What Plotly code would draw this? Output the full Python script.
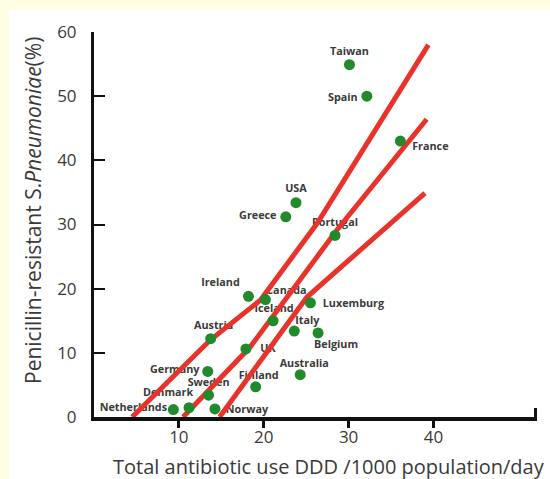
import plotly.graph_objects as go

# ---- data ----
countries = ["Taiwan", "Spain", "France", "USA", "Greece", "Portugal", "Ireland",
             "Canada", "Luxemburg", "Iceland", "Italy", "Belgium", "Austria", "UK",
             "Australia", "Germany", "Finland", "Sweden", "Denmark", "Netherlands", "Norway"]
antibiotic_use = [30.1, 32.15, 36.1, 23.8, 22.6, 28.4, 18.2,
                  20.2, 25.5, 21.1, 23.6, 26.4, 13.75, 17.9,
                  24.3, 13.4, 19.05, 13.5, 11.2, 9.35, 14.25]
resistance = [54.9, 50.0, 43.0, 33.4, 31.2, 28.3, 18.8,
              18.3, 17.8, 15.0, 13.4, 13.1, 12.2, 10.6,
              6.6, 7.1, 4.7, 3.4, 1.45, 1.15, 1.25]

upper_x = [4.5, 13.7, 19.6, 26.3, 39.4]
upper_y = [0.0, 12.0, 18.2, 30.2, 58.0]
middle_x = [10.5, 18.4, 28.6, 39.2]
middle_y = [0.0, 10.9, 29.1, 46.4]
lower_x = [14.8, 25.1, 39.0]
lower_y = [0.0, 18.7, 34.9]

x_ticks = [10, 20, 30, 40]
y_ticks = [0, 10, 20, 30, 40, 50, 60]

# ---- layout constants ----
W, H = 550, 479
ML, MR, MT, MB = 94, 13, 32, 62
XR = [0, 52.2]
YR = [0, 60]
pw = W - ML - MR
ph = H - MT - MB
px_x = pw / (XR[1] - XR[0])
px_y = ph / (YR[1] - YR[0])

# label offsets in pixels (right, up)
label_offsets = {
    "Taiwan": (0, 12), "Spain": (-24, -2), "France": (30, -6), "USA": (0, 13),
    "Greece": (-28, 0), "Portugal": (0, 12), "Ireland": (-28, 13), "Canada": (21, 8),
    "Luxemburg": (43, -2), "Iceland": (1, 11), "Italy": (13, 10), "Belgium": (18, -12),
    "Austria": (3, 12), "UK": (22, 0), "Australia": (4, 10), "Germany": (-33, 1),
    "Finland": (3, 11), "Sweden": (0, 12), "Denmark": (-21, 14), "Netherlands": (-40, 1),
    "Norway": (32, -1),
}
lab_x = [x + label_offsets[c][0] / px_x for c, x in zip(countries, antibiotic_use)]
lab_y = [y + label_offsets[c][1] / px_y for c, y in zip(countries, resistance)]

RED = "#E8322A"
GREEN = "#218A2B"
TXT = "#3a3a3a"
FONT = "Open Sans"
PAGE = "#FFFEE3"

fig = go.Figure()

fig.add_trace(go.Scatter(
    x=lab_x, y=lab_y, mode="text", text=countries, textposition="middle center",
    textfont=dict(family=FONT, size=10.8, color=TXT, weight="bold"),
    cliponaxis=False, hoverinfo="skip", showlegend=False))

for lx, ly in [(upper_x, upper_y), (middle_x, middle_y), (lower_x, lower_y)]:
    fig.add_trace(go.Scatter(x=lx, y=ly, mode="lines",
                             line=dict(color=RED, width=5),
                             hoverinfo="skip", showlegend=False))

fig.add_trace(go.Scatter(
    x=antibiotic_use, y=resistance, mode="markers", text=countries,
    marker=dict(color=GREEN, size=11, line=dict(width=0)),
    showlegend=False))

shapes = [
    # white panel on the yellow page
    dict(type="rect", xref="paper", yref="paper",
         x0=(9 - ML) / pw, x1=1.2, y0=-0.4, y1=(H - MB - 10) / ph,
         fillcolor="white", line=dict(width=0), layer="below"),
    # upward end tick of x axis
    dict(type="line", xref="paper", yref="paper",
         x0=1 - 1.5 / pw, x1=1 - 1.5 / pw, y0=0, y1=9 / ph,
         line=dict(color="#111", width=3)),
]

annotations = [
    dict(text="Total antibiotic use DDD /1000 population/day",
         xref="paper", yref="paper", x=(111 - ML) / pw, y=-(466 - (H - MB)) / ph,
         showarrow=False, xanchor="left", yanchor="middle",
         font=dict(family=FONT, size=20, color=TXT)),
    dict(text="Penicillin-resistant S.<i>Pneumoniae</i>(%)",
         xref="paper", yref="paper", x=(33 - ML) / pw, y=((H - MB) - 211) / ph,
         showarrow=False, xanchor="center", yanchor="middle", textangle=-90,
         font=dict(family=FONT, size=21, color=TXT)),
]

fig.update_layout(
    width=W, height=H,
    margin=dict(l=ML, r=MR, t=MT, b=MB, pad=0),
    paper_bgcolor=PAGE,
    plot_bgcolor="white",
    shapes=shapes,
    annotations=annotations,
    xaxis=dict(range=XR, tickvals=x_ticks, ticks="outside", ticklen=7, tickwidth=3,
               tickcolor="#111", showline=True, linecolor="#111", linewidth=4,
               showgrid=False, zeroline=False, fixedrange=True,
               ticklabelstandoff=-5,
               tickfont=dict(family=FONT, size=17, color=TXT)),
    yaxis=dict(range=YR, tickvals=y_ticks, ticks="inside", ticklen=11, tickwidth=2,
               tickcolor="#111", showline=True, linecolor="#111", linewidth=3,
               showgrid=False, zeroline=False, fixedrange=True,
               ticklabelstandoff=11,
               tickfont=dict(family=FONT, size=17, color=TXT)),
)

fig.write_html(
    "out.html",
    config={"displayModeBar": False},
    post_script="document.body.style.margin='0';document.body.style.background='%s';" % PAGE,
)
